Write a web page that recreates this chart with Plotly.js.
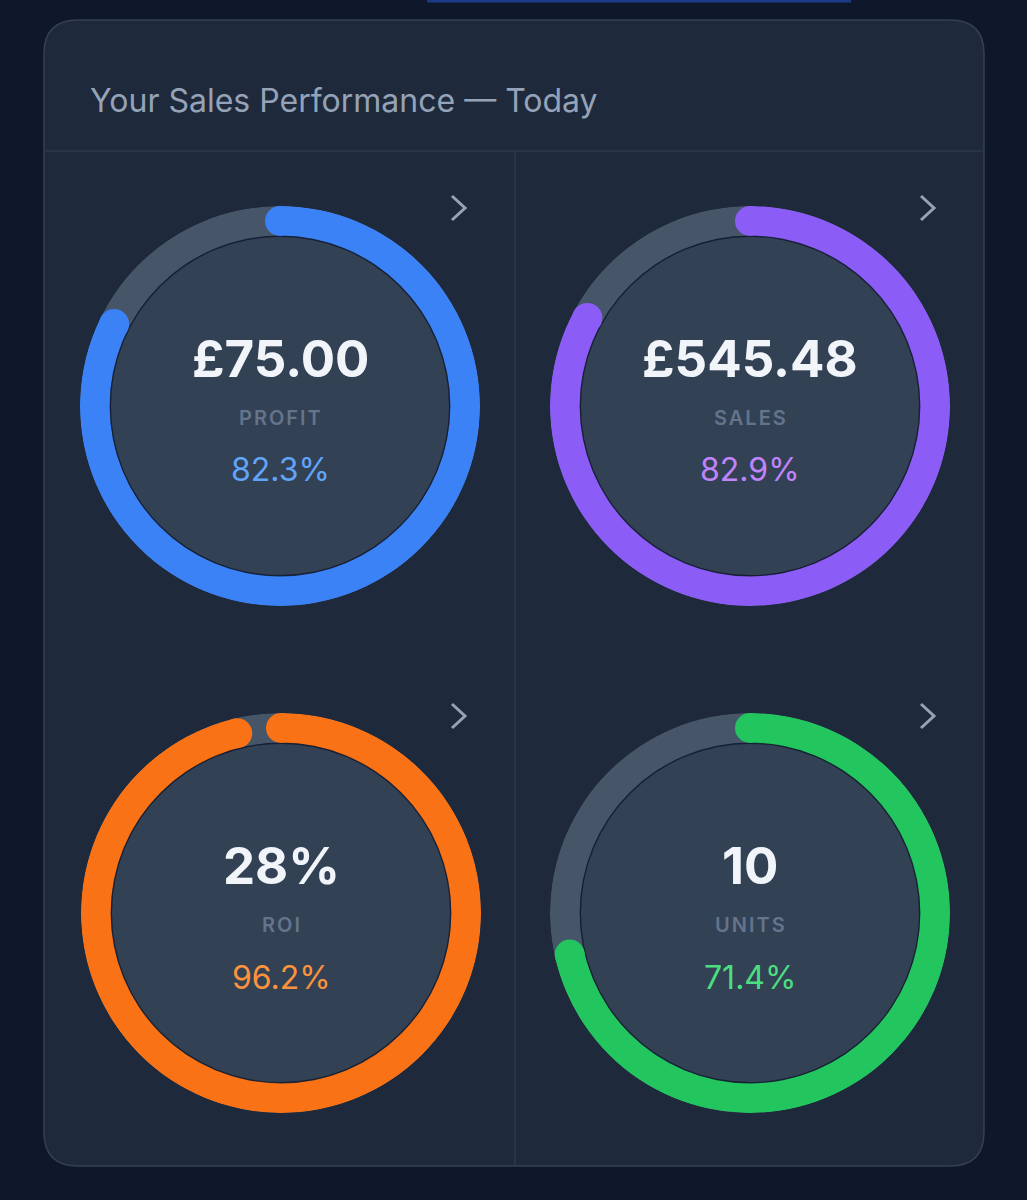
<!DOCTYPE html>
<html>
<head>
<meta charset="utf-8">
<script src="https://cdn.plot.ly/plotly-3.0.1.min.js"></script>
<style>
  html, body { margin: 0; padding: 0; background: #0f172a; }
  #chart { width: 1027px; height: 1200px; }
  g.annotation[data-index="1"] text,
  g.annotation[data-index="4"] text,
  g.annotation[data-index="7"] text,
  g.annotation[data-index="10"] text { letter-spacing: 2px; }
</style>
</head>
<body>
<div id="chart"></div>
<script>
// ---------- DATA ----------
const chartTitle = 'Your Sales Performance — Today';
const metricLabels = ['PROFIT', 'SALES', 'ROI', 'UNITS'];
const metricValues = ['£75.00', '£545.48', '28%', '10'];
const percentValues = [82.3, 82.9, 96.2, 71.4];
const ringColors = ['#3b82f6', '#8b5cf6', '#f97316', '#22c55e'];
const percentColors = ['#60a5fa', '#c084fc', '#fb923c', '#4ade80'];

// ---------- LAYOUT GEOMETRY (pixels) ----------
const W = 1027, H = 1200;
const centers = [[280, 406], [750, 406], [281, 913], [750, 913]];
const R = 200, RING = 30, INNER = R - RING;
const px = x => x / W;
const py = y => 1 - y / H;

const data = [];
const layout = {
  width: W, height: H,
  margin: {l: 0, r: 0, t: 0, b: 0},
  paper_bgcolor: '#0f172a',
  plot_bgcolor: 'rgba(0,0,0,0)',
  showlegend: false,
  font: {family: 'Inter, "Noto Sans", sans-serif'},
  shapes: [],
  annotations: []
};

metricLabels.forEach((label, i) => {
  const key = i === 0 ? 'polar' : 'polar' + (i + 1);
  const [cx, cy] = centers[i];
  const p = percentValues[i];
  const sweep = p * 3.6;
  layout[key] = {
    domain: {x: [px(cx - R), px(cx + R)], y: [py(cy + R), py(cy - R)]},
    bgcolor: 'rgba(0,0,0,0)',
    bargap: 0,
    radialaxis: {range: [0, R], visible: false},
    angularaxis: {rotation: 90, direction: 'clockwise', visible: false}
  };
  // inner disc
  data.push({type: 'barpolar', subplot: key, r: [INNER], base: [0], theta: [180], width: [360],
    marker: {color: '#334155', line: {width: 0}}, hoverinfo: 'skip'});
  // track
  data.push({type: 'barpolar', subplot: key, r: [RING], base: [INNER], theta: [180], width: [360],
    marker: {color: '#475569', line: {width: 0}}, hoverinfo: 'skip'});
  // progress
  data.push({type: 'barpolar', subplot: key, r: [RING], base: [INNER], theta: [sweep / 2], width: [sweep],
    marker: {color: ringColors[i], line: {width: 0}}, hoverinfo: 'skip'});
  // inner dark edge
  data.push({type: 'barpolar', subplot: key, r: [1.4], base: [INNER - 1.0], theta: [180], width: [360],
    marker: {color: 'rgba(15,23,42,0.8)', line: {width: 0}}, hoverinfo: 'skip'});
  // round caps
  data.push({type: 'scatterpolar', subplot: key, mode: 'markers', r: [INNER + RING / 2, INNER + RING / 2],
    theta: [0, sweep], marker: {size: RING, color: ringColors[i], line: {width: 0}}, hoverinfo: 'skip'});

  layout.annotations.push(
    {xref: 'paper', yref: 'paper', x: px(cx), y: py(cy - 48), xanchor: 'center', yanchor: 'middle',
     showarrow: false, text: metricValues[i], font: {size: 51, color: '#f1f5f9', weight: 700}},
    {xref: 'paper', yref: 'paper', x: px(cx + 1), y: py(cy + 12), xanchor: 'center', yanchor: 'middle',
     showarrow: false, text: label, font: {size: 20, color: '#64748b', weight: 600}},
    {xref: 'paper', yref: 'paper', x: px(cx), y: py(cy + 64), xanchor: 'center', yanchor: 'middle',
     showarrow: false, text: p.toFixed(1) + '%', font: {size: 32, color: percentColors[i], weight: 400}}
  );
});

// title
layout.annotations.push({xref: 'paper', yref: 'paper', x: px(88), y: py(100), xanchor: 'left', yanchor: 'middle',
  showarrow: false, text: chartTitle, font: {size: 32, color: '#94a3b8', weight: 400}});

// card background with rounded corners
function roundRect(x0, y0, x1, y1, r) {
  const X = v => px(v), Y = v => py(v);
  return `M ${X(x0 + r)} ${Y(y0)} L ${X(x1 - r)} ${Y(y0)} Q ${X(x1)} ${Y(y0)} ${X(x1)} ${Y(y0 + r)} ` +
         `L ${X(x1)} ${Y(y1 - r)} Q ${X(x1)} ${Y(y1)} ${X(x1 - r)} ${Y(y1)} ` +
         `L ${X(x0 + r)} ${Y(y1)} Q ${X(x0)} ${Y(y1)} ${X(x0)} ${Y(y1 - r)} ` +
         `L ${X(x0)} ${Y(y0 + r)} Q ${X(x0)} ${Y(y0)} ${X(x0 + r)} ${Y(y0)} Z`;
}
layout.shapes.push(
  {type: 'rect', xref: 'paper', yref: 'paper', x0: px(427), x1: px(851), y0: py(0), y1: py(2.5),
   fillcolor: '#1e3a8a', line: {width: 0}, layer: 'below'},
  {type: 'path', xref: 'paper', yref: 'paper', path: roundRect(44, 20, 984, 1166, 34),
   fillcolor: '#1e293b', line: {color: '#334155', width: 1.5}, layer: 'below'},
  {type: 'line', xref: 'paper', yref: 'paper', x0: px(44.5), x1: px(983.5), y0: py(151), y1: py(151),
   line: {color: '#2c3a4f', width: 1.5}, layer: 'below'},
  {type: 'line', xref: 'paper', yref: 'paper', x0: px(515), x1: px(515), y0: py(151), y1: py(1165),
   line: {color: '#2c3a4f', width: 1.5}, layer: 'below'}
);
// chevrons
[[465, 208], [934, 208], [465, 716], [934, 716]].forEach(([tx, ty]) => {
  layout.shapes.push({type: 'path', xref: 'paper', yref: 'paper',
    path: `M ${px(tx - 13)} ${py(ty - 12)} L ${px(tx)} ${py(ty)} L ${px(tx - 13)} ${py(ty + 12)}`,
    line: {color: '#94a3b8', width: 3}, layer: 'above'});
});

Plotly.newPlot('chart', data, layout, {staticPlot: true, displayModeBar: false});
</script>
</body>
</html>
